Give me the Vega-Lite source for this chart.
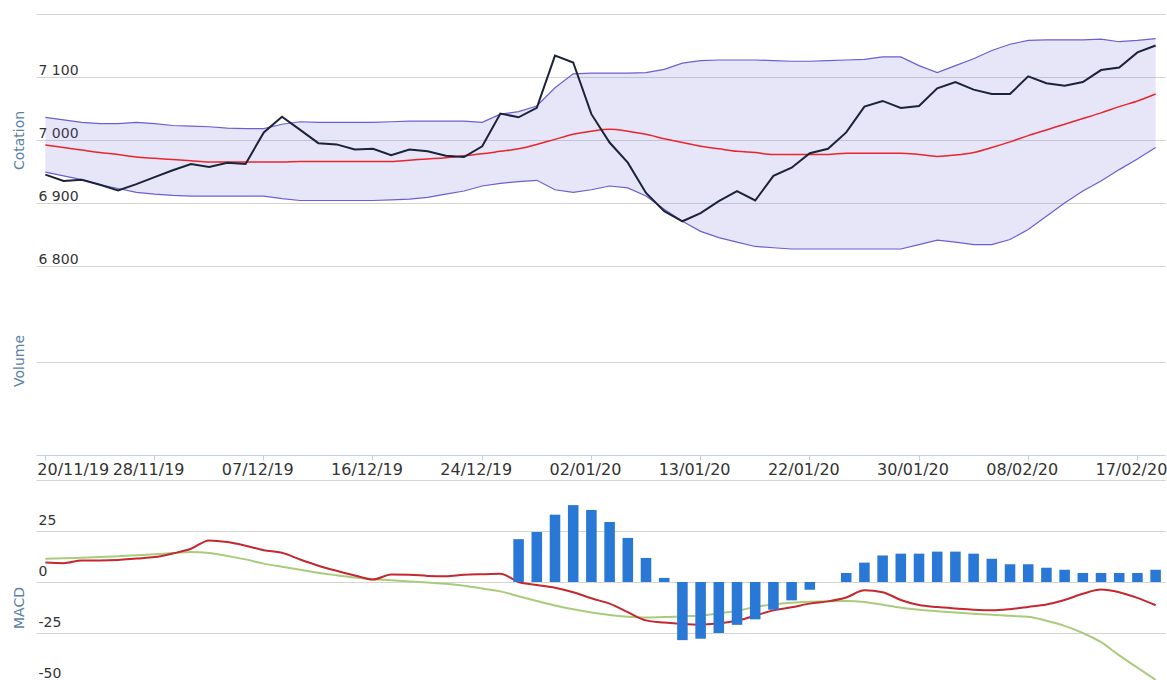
{
  "$schema": "https://vega.github.io/schema/vega-lite/v6.json",
  "padding": {"left": 12, "top": 14, "right": 0, "bottom": 0},
  "spacing": 0,
  "bounds": "flush",
  "config": {
    "view": {"stroke": null},
    "axis": {"labelFont": "DejaVu Sans", "titleFont": "DejaVu Sans", "gridColor": "#d4d4d4", "gridWidth": 1},
    "axisY": {"grid": true, "domain": false, "ticks": false, "tickSize": 0, "labelAlign": "left", "labelBaseline": "bottom", "labelPadding": -2, "labelFontSize": 14, "labelColor": "#333333", "titleColor": "#5a7fa8", "titleFontSize": 14, "titleFontWeight": "normal", "titlePadding": 10}
  },
  "data": {"values": [
    {"d":"20/11/19","close":6945,"upper":7036,"lower":6949,"ma":6992,"macd":9.5,"signal":11.4,"hist":null},
    {"d":"21/11/19","close":6935,"upper":7032,"lower":6943,"ma":6988,"macd":9.2,"signal":11.6,"hist":null},
    {"d":"22/11/19","close":6937,"upper":7028,"lower":6937,"ma":6984,"macd":10.6,"signal":11.9,"hist":null},
    {"d":"25/11/19","close":6929,"upper":7026,"lower":6929,"ma":6980,"macd":10.6,"signal":12.2,"hist":null},
    {"d":"26/11/19","close":6920,"upper":7026,"lower":6923,"ma":6977,"macd":10.8,"signal":12.6,"hist":null},
    {"d":"27/11/19","close":6930,"upper":7028,"lower":6917,"ma":6973,"macd":11.5,"signal":13.1,"hist":null},
    {"d":"28/11/19","close":6941,"upper":7026,"lower":6914,"ma":6971,"macd":12.2,"signal":13.6,"hist":null},
    {"d":"29/11/19","close":6952,"upper":7023,"lower":6912,"ma":6969,"macd":14.0,"signal":14.2,"hist":null},
    {"d":"02/12/19","close":6962,"upper":7022,"lower":6911,"ma":6967,"macd":16.3,"signal":14.7,"hist":null},
    {"d":"03/12/19","close":6957,"upper":7021,"lower":6911,"ma":6965,"macd":20.4,"signal":14.2,"hist":null},
    {"d":"04/12/19","close":6964,"upper":7019,"lower":6911,"ma":6965,"macd":19.6,"signal":12.7,"hist":null},
    {"d":"05/12/19","close":6962,"upper":7018,"lower":6911,"ma":6965,"macd":17.8,"signal":11.1,"hist":null},
    {"d":"07/12/19","close":7012,"upper":7018,"lower":6911,"ma":6965,"macd":15.6,"signal":9.0,"hist":null},
    {"d":"09/12/19","close":7037,"upper":7025,"lower":6907,"ma":6965,"macd":14.3,"signal":7.5,"hist":null},
    {"d":"10/12/19","close":7016,"upper":7029,"lower":6904,"ma":6966,"macd":11.0,"signal":6.0,"hist":null},
    {"d":"11/12/19","close":6995,"upper":7028,"lower":6904,"ma":6966,"macd":8.0,"signal":4.5,"hist":null},
    {"d":"12/12/19","close":6993,"upper":7028,"lower":6904,"ma":6966,"macd":5.5,"signal":3.3,"hist":null},
    {"d":"13/12/19","close":6985,"upper":7028,"lower":6904,"ma":6966,"macd":3.2,"signal":2.2,"hist":null},
    {"d":"16/12/19","close":6986,"upper":7028,"lower":6904,"ma":6966,"macd":1.2,"signal":1.4,"hist":null},
    {"d":"17/12/19","close":6976,"upper":7029,"lower":6905,"ma":6966,"macd":3.7,"signal":0.9,"hist":null},
    {"d":"18/12/19","close":6985,"upper":7030,"lower":6906,"ma":6968,"macd":3.6,"signal":0.3,"hist":null},
    {"d":"19/12/19","close":6982,"upper":7030,"lower":6909,"ma":6970,"macd":3.0,"signal":-0.3,"hist":null},
    {"d":"20/12/19","close":6975,"upper":7030,"lower":6914,"ma":6972,"macd":2.8,"signal":-0.9,"hist":null},
    {"d":"23/12/19","close":6973,"upper":7030,"lower":6919,"ma":6975,"macd":3.5,"signal":-1.8,"hist":null},
    {"d":"24/12/19","close":6990,"upper":7028,"lower":6927,"ma":6978,"macd":3.8,"signal":-3.2,"hist":null},
    {"d":"26/12/19","close":7042,"upper":7041,"lower":6931,"ma":6982,"macd":4.0,"signal":-4.6,"hist":null},
    {"d":"27/12/19","close":7036,"upper":7045,"lower":6934,"ma":6986,"macd":0.0,"signal":-7.0,"hist":21},
    {"d":"30/12/19","close":7051,"upper":7054,"lower":6936,"ma":6993,"macd":-1.5,"signal":-9.3,"hist":24.5},
    {"d":"31/12/19","close":7134,"upper":7083,"lower":6921,"ma":7001,"macd":-2.8,"signal":-11.5,"hist":33},
    {"d":"01/01/20","close":7123,"upper":7105,"lower":6917,"ma":7009,"macd":-5.0,"signal":-13.4,"hist":37.7},
    {"d":"02/01/20","close":7041,"upper":7106,"lower":6921,"ma":7014,"macd":-8.0,"signal":-15.0,"hist":35.3},
    {"d":"03/01/20","close":6996,"upper":7106,"lower":6927,"ma":7017,"macd":-10.6,"signal":-16.2,"hist":29.4},
    {"d":"06/01/20","close":6964,"upper":7106,"lower":6924,"ma":7014,"macd":-14.8,"signal":-17.0,"hist":21.6},
    {"d":"07/01/20","close":6916,"upper":7107,"lower":6911,"ma":7009,"macd":-18.8,"signal":-17.4,"hist":11.8},
    {"d":"08/01/20","close":6887,"upper":7112,"lower":6890,"ma":7002,"macd":-19.9,"signal":-17.2,"hist":2},
    {"d":"10/01/20","close":6871,"upper":7122,"lower":6871,"ma":6996,"macd":-20.6,"signal":-16.8,"hist":-28.5},
    {"d":"13/01/20","close":6884,"upper":7126,"lower":6855,"ma":6990,"macd":-20.9,"signal":-16.5,"hist":-27.8},
    {"d":"15/01/20","close":6903,"upper":7127,"lower":6845,"ma":6986,"macd":-20.2,"signal":-15.3,"hist":-25},
    {"d":"16/01/20","close":6919,"upper":7127,"lower":6838,"ma":6982,"macd":-19.0,"signal":-14.2,"hist":-21},
    {"d":"17/01/20","close":6904,"upper":7127,"lower":6831,"ma":6980,"macd":-16.5,"signal":-12.2,"hist":-18.3},
    {"d":"20/01/20","close":6943,"upper":7126,"lower":6829,"ma":6977,"macd":-13.9,"signal":-11.0,"hist":-13.6},
    {"d":"21/01/20","close":6956,"upper":7125,"lower":6827,"ma":6977,"macd":-12.4,"signal":-10.2,"hist":-9},
    {"d":"22/01/20","close":6979,"upper":7125,"lower":6827,"ma":6977,"macd":-10.6,"signal":-9.7,"hist":-3.8},
    {"d":"23/01/20","close":6986,"upper":7126,"lower":6827,"ma":6977,"macd":-9.5,"signal":-9.4,"hist":0},
    {"d":"24/01/20","close":7012,"upper":7127,"lower":6827,"ma":6979,"macd":-7.6,"signal":-9.3,"hist":4.4},
    {"d":"27/01/20","close":7053,"upper":7128,"lower":6827,"ma":6979,"macd":-4.1,"signal":-9.8,"hist":9.5},
    {"d":"28/01/20","close":7062,"upper":7132,"lower":6827,"ma":6979,"macd":-5.0,"signal":-11.2,"hist":13},
    {"d":"29/01/20","close":7051,"upper":7132,"lower":6827,"ma":6979,"macd":-8.8,"signal":-12.6,"hist":13.9},
    {"d":"30/01/20","close":7054,"upper":7118,"lower":6834,"ma":6977,"macd":-11.3,"signal":-13.6,"hist":13.9},
    {"d":"31/01/20","close":7082,"upper":7107,"lower":6841,"ma":6974,"macd":-12.3,"signal":-14.3,"hist":14.9},
    {"d":"03/02/20","close":7092,"upper":7118,"lower":6838,"ma":6976,"macd":-13.0,"signal":-15.0,"hist":14.9},
    {"d":"04/02/20","close":7080,"upper":7129,"lower":6834,"ma":6980,"macd":-13.6,"signal":-15.6,"hist":13.9},
    {"d":"05/02/20","close":7073,"upper":7142,"lower":6834,"ma":6988,"macd":-13.9,"signal":-16.0,"hist":11.4},
    {"d":"06/02/20","close":7073,"upper":7152,"lower":6842,"ma":6997,"macd":-13.3,"signal":-16.6,"hist":8.7},
    {"d":"08/02/20","close":7101,"upper":7158,"lower":6858,"ma":7007,"macd":-12.2,"signal":-17.0,"hist":8.7},
    {"d":"10/02/20","close":7090,"upper":7159,"lower":6879,"ma":7016,"macd":-11.0,"signal":-19.0,"hist":7},
    {"d":"11/02/20","close":7086,"upper":7159,"lower":6900,"ma":7025,"macd":-8.8,"signal":-21.5,"hist":6},
    {"d":"12/02/20","close":7092,"upper":7159,"lower":6919,"ma":7034,"macd":-5.8,"signal":-25.0,"hist":4.4},
    {"d":"13/02/20","close":7111,"upper":7160,"lower":6935,"ma":7043,"macd":-3.7,"signal":-29.5,"hist":4.4},
    {"d":"14/02/20","close":7115,"upper":7156,"lower":6953,"ma":7053,"macd":-5.0,"signal":-36.0,"hist":4.4},
    {"d":"17/02/20","close":7139,"upper":7158,"lower":6970,"ma":7062,"macd":-7.8,"signal":-42.0,"hist":4.4},
    {"d":"18/02/20","close":7150,"upper":7161,"lower":6988,"ma":7073,"macd":-11.4,"signal":-48.0,"hist":6}
  ]},
  "vconcat": [
    {
      "width": 1129,
      "height": 252,
      "encoding": {
        "x": {"field": "d", "type": "ordinal", "sort": null, "scale": {"type": "band", "paddingInner": 0.42, "paddingOuter": 0.225}, "axis": null}
      },
      "layer": [
        {
          "mark": {"type": "area", "color": "#6c5fd6", "opacity": 0.16},
          "encoding": {
            "y": {"field": "lower", "type": "quantitative", "title": "Cotation", "scale": {"domain": [6800, 7200], "nice": false, "zero": false},
                  "axis": {"values": [6800, 6900, 7000, 7100, 7200], "labelExpr": "datum.value >= 7200 ? '' : replace(format(datum.value, ','), ',', ' ')"}},
            "y2": {"field": "upper"}
          }
        },
        {"mark": {"type": "line", "color": "#6c5fd3", "strokeWidth": 1.2}, "encoding": {"y": {"field": "upper", "type": "quantitative", "title": "Cotation"}}},
        {"mark": {"type": "line", "color": "#6c5fd3", "strokeWidth": 1.2}, "encoding": {"y": {"field": "lower", "type": "quantitative", "title": "Cotation"}}},
        {"mark": {"type": "line", "color": "#e8262b", "strokeWidth": 1.5, "interpolate": "monotone"}, "encoding": {"y": {"field": "ma", "type": "quantitative", "title": "Cotation"}}},
        {"mark": {"type": "line", "color": "#1b2338", "strokeWidth": 2}, "encoding": {"y": {"field": "close", "type": "quantitative", "title": "Cotation"}}}
      ]
    },
    {
      "spacing": 25,
      "bounds": "flush",
      "vconcat": [
        {
          "width": 1129,
          "height": 189,
          "mark": {"type": "point", "opacity": 0},
          "encoding": {
            "x": {"field": "d", "type": "ordinal", "sort": null, "scale": {"type": "band", "paddingInner": 0.42, "paddingOuter": 0.225},
                  "axis": {"title": null, "values": ["20/11/19","28/11/19","07/12/19","16/12/19","24/12/19","02/01/20","13/01/20","22/01/20","30/01/20","08/02/20","17/02/20"],
                           "labelAngle": 0, "labelFontSize": 16, "labelColor": "#333333", "labelPadding": 1, "labelBaseline": "top", "labelOverlap": false,
                           "tickSize": 5, "tickColor": "#c6d0e4", "domainColor": "#c6d0e4", "grid": false,
                           "labelAlign": {"condition": {"test": "datum.value === '20/11/19'", "value": "left"}, "value": "center"},
                           "labelOffset": {"condition": {"test": "datum.value === '20/11/19'", "value": -8}, "value": -6}}},
            "y": {"datum": 1, "type": "quantitative", "scale": {"domain": [0, 2.03], "nice": false, "zero": false},
                  "axis": {"title": "Volume", "values": [1], "labels": false}}
          }
        },
        {
          "width": 1129,
          "height": 255,
          "encoding": {
            "x": {"field": "d", "type": "ordinal", "sort": null, "scale": {"type": "band", "paddingInner": 0.42, "paddingOuter": 0.225}, "axis": null}
          },
          "layer": [
            {"mark": {"type": "line", "color": "#a9cc7c", "strokeWidth": 2, "interpolate": "monotone"},
             "encoding": {"y": {"field": "signal", "type": "quantitative", "title": "MACD", "scale": {"domain": [-75, 50], "nice": false},
                      "axis": {"values": [-50, -25, 0, 25, 50], "labelOffset": -4, "labelExpr": "datum.value >= 50 ? '' : '' + datum.value"}}}},
            {"mark": {"type": "line", "color": "#c4282e", "strokeWidth": 2, "interpolate": "monotone"}, "encoding": {"y": {"field": "macd", "type": "quantitative", "title": "MACD"}}},
            {"mark": {"type": "bar", "color": "#2a78d6"}, "encoding": {"y": {"field": "hist", "type": "quantitative", "title": "MACD"}}}
          ]
        }
      ]
    }
  ]
}
